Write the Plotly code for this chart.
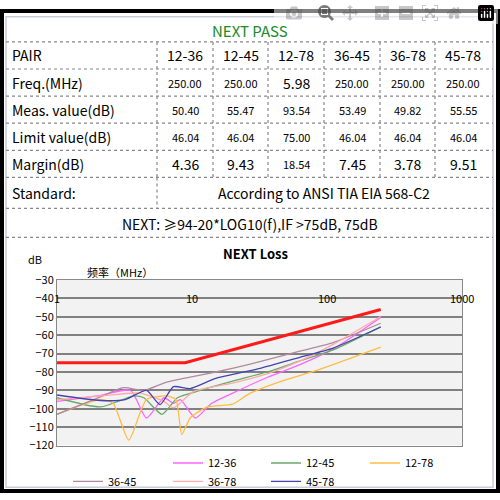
import math
import plotly.graph_objects as go

pairs = ["12-36", "12-45", "12-78", "36-45", "36-78", "45-78"]
freq_vals = ["250.00", "250.00", "5.98", "250.00", "250.00", "250.00"]
meas_vals = ["50.40", "55.47", "93.54", "53.49", "49.82", "55.55"]
limit_vals = ["46.04", "46.04", "75.00", "46.04", "46.04", "46.04"]
margin_vals = ["4.36", "9.43", "18.54", "7.45", "3.78", "9.51"]

limit_f = [1, 8.9, 250]
limit_db = [-75, -75, -46.04]
s1236_f = [1, 2, 3.5, 4.6, 6.2, 7.3, 8.2, 10.6, 14, 20, 36, 63, 114, 250]
s1236_db = [-96, -93, -90, -105, -94, -97, -95, -105, -97, -91.5, -83, -76, -67, -50.4]
s1245_f = [1, 2.1, 3.7, 4.4, 6, 7.8, 11.5, 20, 36, 63, 111, 250]
s1245_db = [-94, -99, -93, -94, -103, -94, -90, -85, -80, -74, -68, -55.47]
s1278_f = [1, 2.1, 2.6, 3.4, 4.6, 6.5, 7.6, 8.4, 9.7, 13, 20, 27, 48, 85, 250]
s1278_db = [-103, -95, -97, -117, -95, -93, -95, -114, -105, -99, -97.5, -91.5, -84.5, -79, -66.5]
s3645_f = [1, 2.1, 3.1, 4.4, 6.2, 8.7, 15, 27, 63, 111, 250]
s3645_db = [-103, -93.5, -88.5, -90, -86, -83.5, -80, -75.7, -68.7, -64, -53.49]
s3678_f = [1, 2.1, 4.1, 6.2, 7.3, 10.3, 20, 36, 63, 111, 250]
s3678_db = [-95, -93, -91.5, -96, -99.5, -90.5, -86, -81, -74, -65, -49.82]
s4578_f = [1, 2.1, 3.2, 4.6, 5.8, 7.3, 9.7, 15, 32, 63, 111, 250]
s4578_db = [-92.5, -95.5, -95, -90, -97.7, -88, -89, -83.5, -78, -72, -67, -55.55]
x_ticks = [1, 10, 100, 1000]

FONT = "Noto Sans CJK SC"
W = 500.0
def px(x): return x / W
def py(y): return 1 - y / W

fig = go.Figure()
series = [
    ("limit", limit_f, limit_db, "#ff1a1a", 3, "linear"),
    ("12-36", s1236_f, s1236_db, "#ff66ff", 1.3, "spline"),
    ("12-45", s1245_f, s1245_db, "#66aa66", 1.3, "spline"),
    ("12-78", s1278_f, s1278_db, "#ffbb44", 1.3, "spline"),
    ("36-45", s3645_f, s3645_db, "#b08aa0", 1.3, "spline"),
    ("36-78", s3678_f, s3678_db, "#ffaaaa", 1.3, "spline"),
    ("45-78", s4578_f, s4578_db, "#4444aa", 1.3, "spline"),
]
leg_pos = [(68, 469), (168, 469), (266, 469), (365, 469), (68, 488), (168, 488), (266, 488)]
legends = {}
for i, (name, f, d, c, w, sh) in enumerate(series):
    lname = "legend" if i == 0 else "legend%d" % (i + 1)
    fig.add_trace(go.Scatter(x=f, y=d, name=name, mode="lines", legend=lname,
                             line=dict(color=c, width=w, shape=sh, smoothing=0.6)))
    lx, ly = leg_pos[i]
    legends[lname] = dict(x=px(lx), y=py(ly), xanchor="left", yanchor="middle",
                          font=dict(size=11), bgcolor="rgba(0,0,0,0)")

shapes = []
ann = []
shapes.append(dict(type="rect", xref="paper", yref="paper", x0=px(2), x1=px(498), y0=py(498), y1=py(2),
                   line=dict(color="black", width=4)))
shapes.append(dict(type="rect", xref="paper", yref="paper", x0=px(6), x1=px(493), y0=py(494), y1=py(8),
                   line=dict(color="#c8ccd8", width=1.5)))
dot = dict(color="#888888", width=1.2, dash="dot")
def hline(y, x0=6, x1=493):
    shapes.append(dict(type="line", xref="paper", yref="paper", x0=px(x0), x1=px(x1), y0=py(y), y1=py(y), line=dot))
def vline(x, y0, y1):
    shapes.append(dict(type="line", xref="paper", yref="paper", x0=px(x), x1=px(x), y0=py(y0), y1=py(y1), line=dot))
for y in [34, 62, 90, 118, 146, 174, 206, 236]:
    hline(y)
cols = [157, 213, 268, 324, 380, 435, 491]
for x in cols[:-1]:
    vline(x, 34, 174)
vline(157, 174, 206)

def text(x, y, s, size, color="black", xanchor="center", bold=False):
    if bold:
        s = "<b>" + s + "</b>"
    ann.append(dict(xref="paper", yref="paper", x=px(x), y=py(y), text=s, showarrow=False,
                    xanchor=xanchor, yanchor="middle", font=dict(family=FONT, size=size, color=color)))

text(250, 22, "NEXT PASS", 15, color="#1a8a2a")
labels = ["PAIR", "Freq.(MHz)", "Meas. value(dB)", "Limit value(dB)", "Margin(dB)"]
rows = [pairs, freq_vals, meas_vals, limit_vals, margin_vals]
centers = [(cols[i] + cols[i + 1]) / 2 for i in range(6)]
for r, (lab, vals) in enumerate(zip(labels, rows)):
    yc = 48 + 28 * r
    text(10, yc, lab, 14, xanchor="left")
    for i, v in enumerate(vals):
        big = (r == 0) or (r == 1 and i == 2) or (r == 4 and i != 2)
        text(centers[i], yc, v, 14 if big else 11)
text(10, 190, "Standard:", 14, xanchor="left")
text(324, 190, "According to ANSI TIA EIA 568-C2", 14)
text(250, 222, "NEXT: ≥94-20*LOG10(f),IF >75dB, 75dB", 14)

text(255, 253, "NEXT Loss", 13, bold=True)
text(35, 258, "dB", 11)
text(120, 272, "频率（MHz）", 11)
for t in x_ticks:
    ann.append(dict(xref="x", yref="y", x=math.log10(t), y=-40, text=str(t),
                    showarrow=False, font=dict(family=FONT, size=11, color="black"), yanchor="middle"))

fig.update_layout(
    width=500, height=500, margin=dict(l=0, r=0, t=0, b=0),
    paper_bgcolor="white", plot_bgcolor="#f2f2f2",
    shapes=shapes, annotations=ann,
    font=dict(family=FONT, size=11, color="black"),
    xaxis=dict(type="log", range=[0, 3], domain=[px(57), px(462)], showticklabels=False,
               showgrid=False, zeroline=False, showline=True, linecolor="#888888", mirror=True),
    yaxis=dict(range=[-120, -30], dtick=10, domain=[py(451), py(280)], showgrid=True,
               gridcolor="#808080", gridwidth=2, zeroline=False, showline=True, linecolor="#888888",
               mirror=True, ticks="", tickfont=dict(size=11)),
    **legends,
)
fig.write_html("out.html",
               post_script="document.body.style.margin='0';document.body.style.overflow='hidden';")
